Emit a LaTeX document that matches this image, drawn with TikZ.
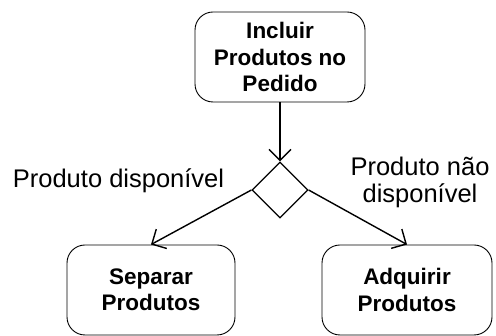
\documentclass[tikz,border=0pt]{standalone}
\usepackage{fontspec}
\setmainfont{Liberation Sans}
\usetikzlibrary{shapes.geometric,arrows.meta}
\begin{document}
\begin{tikzpicture}[x=1pt,y=-1pt,
  box/.style={draw, rounded corners=18pt, minimum width=170pt, minimum height=90pt,
    align=center, font=\fontsize{22.5}{26.5}\selectfont\bfseries, line width=0.9pt, inner sep=0pt},
  dec/.style={draw, diamond, minimum width=56pt, minimum height=56pt, inner sep=0pt, line width=1.2pt},
  flow/.style={line width=1.4pt, -{Straight Barb[length=11pt,width=22pt]}},
  lbl/.style={font=\fontsize{25.5}{27}\selectfont, align=center, inner sep=0pt}]
\useasboundingbox (0,0) rectangle (496,336);
\node[box] (inc) at (280,57) {Incluir\\Produtos no\\Pedido};
\node[dec] (d) at (280,190) {};
\node[box, minimum width=168pt] (sep) at (151,290) {Separar\\Produtos};
\node[box] (adq) at (407,290) {Adquirir\\Produtos};
\draw[flow] (inc.south) -- (d.north);
\draw[flow] (d.west) -- (sep.north);
\draw[flow] (d.east) -- (adq.north);
\node[lbl, anchor=base] (l1) at (118.5,188) {Produto disponível};
\node[lbl] (l2) at (420,182) {Produto não\\disponível};
\end{tikzpicture}
\end{document}
